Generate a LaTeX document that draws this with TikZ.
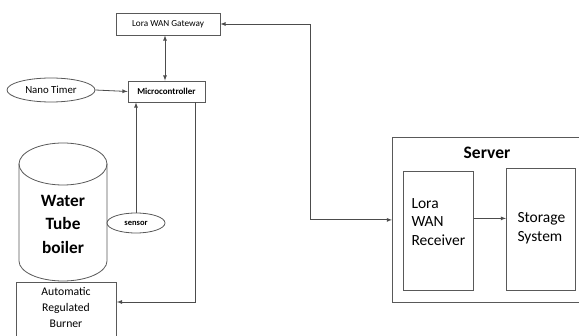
\documentclass[tikz,border=0pt]{standalone}
\usepackage{fontspec}
\setmainfont{Carlito}
\usepackage{tikz}
\usetikzlibrary{calc}
\usetikzlibrary{shapes.geometric}

\tikzset{
	unit/.style={draw=black!65, line width=0.8pt, rectangle, inner sep=0pt},
	oval/.style={draw=black!65, line width=0.8pt, ellipse, inner sep=0pt},
	link/.style={draw=black!70, line width=0.8pt, >=latex}
}

\begin{document}
\begin{tikzpicture}[x=1pt,y=-1pt]
	\useasboundingbox (0,0) rectangle (579,336);
	\clip (0,0) rectangle (579,336);
	% field side
	\node[unit, minimum width=104pt, minimum height=22pt, font=\fontsize{9.2}{10}\selectfont] (gateway) at (168,24) {Lora WAN Gateway};
	\node[unit, minimum width=77pt, minimum height=21pt, font=\fontsize{9}{10}\selectfont\bfseries] (micro) at (166.5,91.5) {Microcontroller};
	\node[oval, minimum width=88pt, minimum height=24pt, font=\fontsize{10.8}{12}\selectfont] (timer) at (51,90) {Nano Timer};
	\node[oval, minimum width=58pt, minimum height=20pt, font=\fontsize{8.5}{10}\selectfont\bfseries] (sensor) at (136,223) {sensor};
	
	% boiler drawn as a cylinder
	\def\cx{63}
	\def\rx{44}
	\draw[black!65, line width=0.8pt] (\cx,164) ellipse ({\rx} and 21);
	\draw[black!65, line width=0.8pt] (\cx-\rx,164) -- (\cx-\rx,261) arc[start angle=180, end angle=360, x radius=\rx, y radius=-20] -- (\cx+\rx,164);
	\node[align=center, font=\fontsize{17.3}{23.5}\selectfont\bfseries] (boiler) at (\cx,224) {Water\\Tube\\boiler};
	
	\node[unit, minimum width=100pt, minimum height=66pt, anchor=north west] (burner) at (16,282) {};
	\node[align=center, font=\fontsize{11.7}{16}\selectfont, anchor=north] (burnertext) at (66,284) {Automatic\\Regulated\\Burner};
	
	% server side
	\node[unit, minimum width=220pt, minimum height=165pt, anchor=north west] (server) at (392,137) {};
	\node[font=\fontsize{17.5}{19}\selectfont\bfseries] (servertext) at (487,153) {Server};
	\node[unit, minimum width=70pt, minimum height=119pt, anchor=north west] (receiver) at (403,171) {};
	\node[align=left, font=\fontsize{15.5}{18.5}\selectfont, anchor=west] (receivertext) at (408,222) {Lora\\WAN\\Receiver};
	\node[unit, minimum width=69pt, minimum height=122pt, anchor=north west] (storage) at (506,168) {};
	\node[align=left, font=\fontsize{15.5}{18.5}\selectfont, anchor=west] (storagetext) at (514,228) {Storage\\System};
	
	% connectors
	\coordinate (hub) at (310,0);
	\coordinate (ret) at (195,302);
	\draw[link, <->] (gateway.east) -- (gateway.east -| hub) |- (server.west);
	\draw[link, <->] (gateway.south -| 165,0) -- (micro.north -| 165,0);
	\draw[link, ->] (timer.east) -- (micro.west);
	\draw[link, ->] (sensor.north) -- (sensor.north |- micro.south);
	\draw[link, ->] (micro.south -| ret) |- (burner.east |- ret);
	\draw[link, ->] ([yshift=12.5pt]receiver.east) -- ([yshift=12.5pt]receiver.east -| storage.west);
\end{tikzpicture}
\end{document}
